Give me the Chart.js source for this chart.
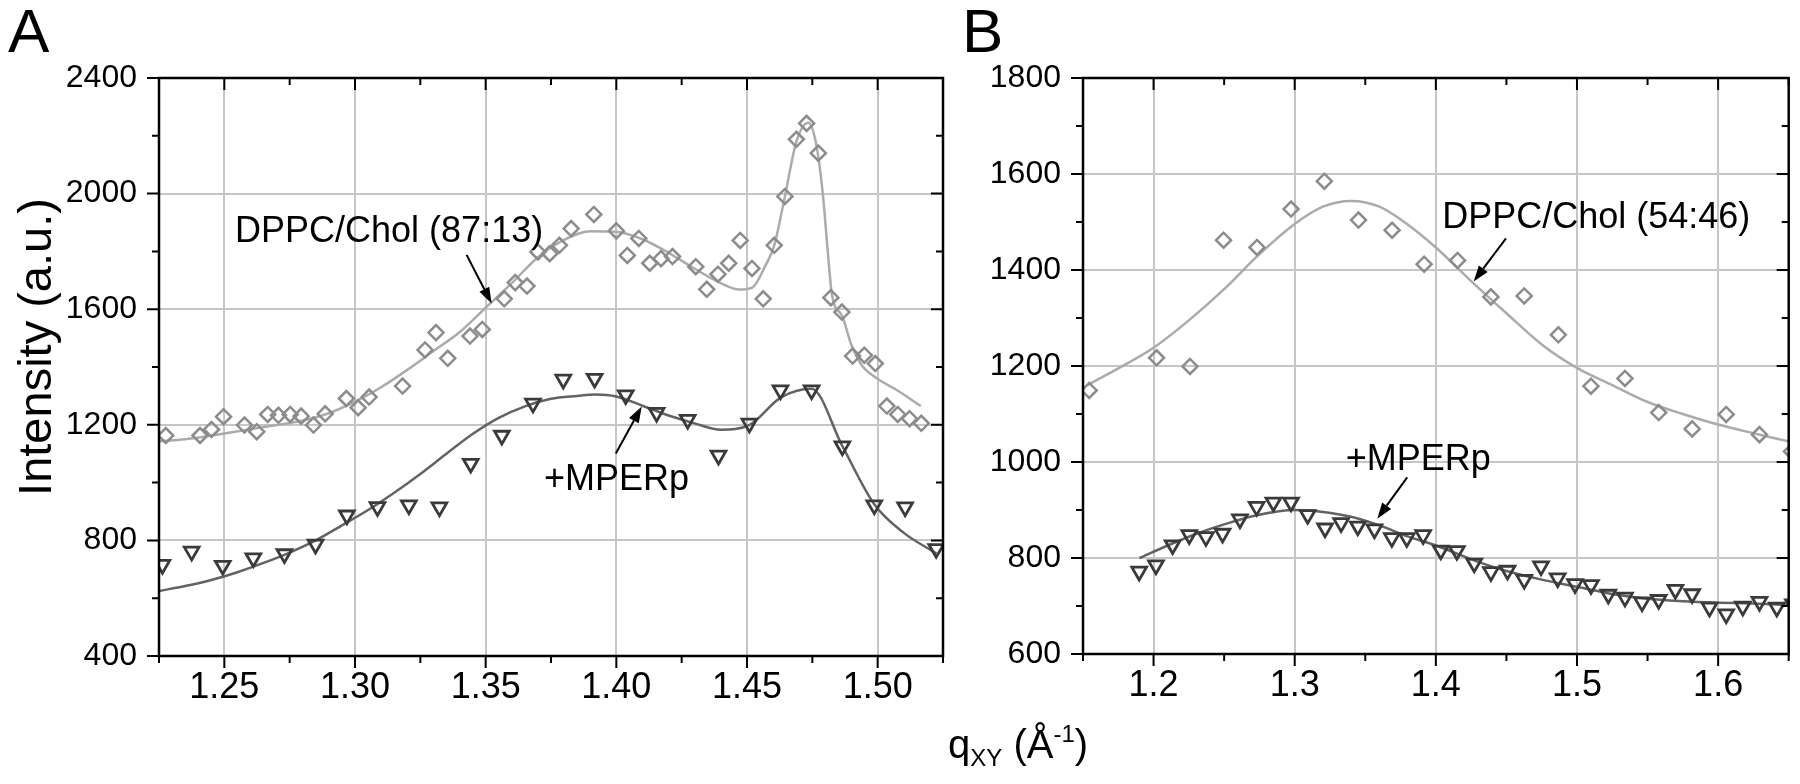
<!DOCTYPE html>
<html>
<head>
<meta charset="utf-8">
<script src="https://cdn.jsdelivr.net/npm/chart.js@4.4.1/dist/chart.umd.min.js"></script>
<style>
  html, body { margin: 0; padding: 0; background: #fff; }
  #wrap { position: relative; width: 1800px; height: 784px; overflow: hidden;
          font-family: "Liberation Sans", Arial, sans-serif; color: #000; }
  canvas { position: absolute; top: 0; }
  #chartA { left: 0; }
  #chartB { left: 960px; }
  .letter { position: absolute; top: 0; font-size: 62px; line-height: 1; }
  #ytitle { position: absolute; left: 34px; top: 347px; font-size: 47px; line-height: 1;
            white-space: nowrap; transform: translate(-50%, -50%) rotate(-90deg); }
  #xtitle { position: absolute; left: 948px; top: 724px; font-size: 40px; line-height: 1; white-space: nowrap; }
  #xtitle .sub { font-size: 24px; position: relative; top: 8px; }
  #xtitle .sup { font-size: 24px; position: relative; top: -16px; }
</style>
</head>
<body>
<div id="wrap">
  <canvas id="chartA" width="960" height="784"></canvas>
  <canvas id="chartB" width="840" height="784"></canvas>
  <div class="letter" style="left:8px">A</div>
  <div class="letter" style="left:962px">B</div>
  <div id="ytitle">Intensity (a.u.)</div>
  <div id="xtitle">q<span class="sub">XY</span> (Å<span class="sup">-1</span>)</div>
</div>
<script>
// ---- panel A : DPPC/Chol (87:13) ----
const qA_chol = [1.2276,1.2407,1.2451,1.2497,1.2577,1.2624,1.2666,1.2707,1.2752,1.2794,1.2841,1.2886,1.2967,1.3012,1.3054,1.3182,1.3268,1.3310,1.3355,1.3440,1.3487,1.3571,1.3613,1.3658,1.3700,1.3745,1.3782,1.3827,1.3914,1.4000,1.4042,1.4086,1.4128,1.4171,1.4215,1.4304,1.4346,1.4389,1.4430,1.4474,1.4519,1.4562,1.4604,1.4645,1.4689,1.4728,1.4773,1.4821,1.4863,1.4904,1.4949,1.4991,1.5035,1.5077,1.5122,1.5167];
const iA_chol = [1163,1163,1184,1228,1199,1176,1236,1233,1236,1230,1199,1238,1291,1259,1296,1334,1459,1519,1430,1507,1530,1636,1692,1680,1798,1792,1821,1879,1928,1871,1786,1845,1759,1775,1782,1747,1669,1721,1759,1838,1741,1636,1821,1990,2188,2243,2140,1640,1590,1438,1441,1412,1265,1236,1221,1205];
const qA_cholFit = [1.225,1.235,1.250,1.265,1.280,1.290,1.300,1.310,1.320,1.330,1.340,1.350,1.360,1.370,1.380,1.390,1.400,1.410,1.420,1.430,1.440,1.447,1.452,1.457,1.4604,1.4645,1.4689,1.4735,1.4765,1.4790,1.4810,1.4825,1.4865,1.4900,1.4940,1.4995,1.5070,1.5165];
const iA_cholFit = [1143,1150,1170,1192,1215,1240,1280,1330,1390,1455,1520,1605,1690,1780,1840,1870,1868,1842,1795,1740,1690,1668,1675,1750,1820,1990,2180,2245,2170,2000,1790,1650,1575,1475,1405,1362,1322,1265];

// ---- panel A : +MPERp ----
const qA_mper = [1.2263,1.2375,1.2494,1.2611,1.2730,1.2849,1.2969,1.3086,1.3206,1.3323,1.3443,1.3562,1.3681,1.3797,1.3917,1.4036,1.4154,1.4273,1.4391,1.4509,1.4628,1.4747,1.4865,1.4987,1.5105,1.5224];
const iA_mper = [716,762,713,739,753,786,887,916,922,915,1066,1163,1274,1357,1360,1303,1242,1218,1094,1205,1320,1320,1126,922,915,771];
const qA_mperFit = [1.225,1.235,1.245,1.255,1.265,1.275,1.285,1.295,1.305,1.315,1.325,1.335,1.345,1.355,1.365,1.375,1.385,1.392,1.400,1.410,1.420,1.430,1.440,1.451,1.463,1.4747,1.4865,1.4987,1.510,1.5225];
const iA_mperFit = [625,642,663,690,722,758,800,852,905,965,1030,1100,1168,1224,1264,1290,1300,1305,1298,1266,1232,1205,1183,1200,1295,1325,1126,925,826,755];

// ---- panel B : DPPC/Chol (54:46) ----
const qB_chol = [1.1544,1.2021,1.2258,1.2496,1.2733,1.2974,1.3210,1.3452,1.3690,1.3917,1.4154,1.4390,1.4626,1.4868,1.5099,1.5340,1.5579,1.5816,1.6057,1.6293,1.6520];
const iB_chol = [1149,1217,1199,1462,1447,1527,1585,1504,1483,1412,1420,1344,1346,1265,1158,1174,1103,1069,1099,1057,1022];
const qB_cholFit = [1.153,1.175,1.200,1.225,1.250,1.275,1.300,1.320,1.340,1.360,1.380,1.400,1.425,1.450,1.475,1.500,1.525,1.550,1.575,1.600,1.625,1.650];
const iB_cholFit = [1160,1195,1238,1295,1360,1433,1496,1532,1544,1532,1495,1447,1377,1310,1245,1196,1160,1125,1100,1078,1060,1043];

// ---- panel B : +MPERp ----
const qB_mper = [1.1898,1.2017,1.2135,1.2253,1.2371,1.2489,1.2612,1.2730,1.2849,1.2974,1.3092,1.3215,1.3329,1.3447,1.3565,1.3688,1.3794,1.3910,1.4035,1.4149,1.4272,1.4390,1.4508,1.4626,1.4745,1.4863,1.4986,1.5099,1.5222,1.5340,1.5461,1.5579,1.5697,1.5816,1.5939,1.6057,1.6175,1.6293,1.6416,1.6530];
const iB_mper = [772,785,827,848,844,851,881,907,916,916,890,862,873,866,860,842,842,848,816,815,789,771,774,755,783,758,746,744,724,718,708,713,734,725,697,683,699,709,697,704];
const qB_mperFit = [1.19,1.21,1.23,1.25,1.27,1.29,1.30,1.32,1.34,1.36,1.38,1.40,1.43,1.45,1.475,1.50,1.525,1.55,1.575,1.60,1.625,1.65];
const iB_mperFit = [800,826,850,870,887,898,900,896,886,868,845,826,792,773,755,740,725,715,710,707,705,702];

// ---- axes ----
const xMajorA = [1.25, 1.30, 1.35, 1.40, 1.45, 1.50];
const xMinorA = [1.225, 1.275, 1.325, 1.375, 1.425, 1.475, 1.525];
const yMajorA = [400, 800, 1200, 1600, 2000, 2400];
const yMinorA = [600, 1000, 1400, 1800, 2200];
const xMajorB = [1.2, 1.3, 1.4, 1.5, 1.6];
const xMinorB = [1.15, 1.25, 1.35, 1.45, 1.55, 1.65];
const yMajorB = [600, 800, 1000, 1200, 1400, 1600, 1800];
const yMinorB = [700, 900, 1100, 1300, 1500, 1700];

// labels with arrows, in data coordinates
const notesA = [
  { text: 'DPPC/Chol (87:13)', at: [1.2541, 1834], from: [1.3427, 1788], to: [1.3523, 1620] },
  { text: '+MPERp', at: [1.3723, 974], from: [1.3998, 1101], to: [1.4097, 1263] }
];
const notesB = [
  { text: 'DPPC/Chol (54:46)', at: [1.4045, 1487], from: [1.4497, 1466], to: [1.4268, 1376] },
  { text: '+MPERp', at: [1.3362, 983], from: [1.3797, 968], to: [1.3585, 882] }
];

Chart.defaults.font.family = '"Liberation Sans", Arial, sans-serif';
Chart.defaults.color = '#000';

function pts(qs, vals) {
  return qs.map((q, i) => ({ x: q, y: vals[i] }));
}

function drawArrow(ctx, x1, y1, x2, y2) {
  const ang = Math.atan2(y2 - y1, x2 - x1);
  const len = 16, half = 5.5;
  const bx = x2 - Math.cos(ang) * len, by = y2 - Math.sin(ang) * len;
  ctx.beginPath();
  ctx.moveTo(x1, y1);
  ctx.lineTo(bx, by);
  ctx.stroke();
  ctx.beginPath();
  ctx.moveTo(x2, y2);
  ctx.lineTo(bx + Math.sin(ang) * half, by - Math.cos(ang) * half);
  ctx.lineTo(bx - Math.sin(ang) * half, by + Math.cos(ang) * half);
  ctx.closePath();
  ctx.fill();
}

// box, mirrored ticks, minor ticks and the arrow labels
const frame = {
  id: 'frame',
  afterDraw(chart, args, o) {
    const ctx = chart.ctx, a = chart.chartArea;
    const sx = chart.scales.x, sy = chart.scales.y;
    ctx.save();
    ctx.strokeStyle = '#000';
    ctx.lineWidth = 2;
    ctx.beginPath();
    const xt = (list, len) => list.forEach(v => {
      const p = sx.getPixelForValue(v);
      ctx.moveTo(p, a.bottom); ctx.lineTo(p, a.bottom + len);
      ctx.moveTo(p, a.top); ctx.lineTo(p, a.top + len);
    });
    const yt = (list, len) => list.forEach(v => {
      const p = sy.getPixelForValue(v);
      ctx.moveTo(a.left - len, p); ctx.lineTo(a.left, p);
      ctx.moveTo(a.right - len, p); ctx.lineTo(a.right, p);
    });
    xt(o.xMajor, 12); xt(o.xMinor, 7);
    yt(o.yMajor, 12); yt(o.yMinor, 7);
    ctx.stroke();
    ctx.lineWidth = 2.5;
    ctx.strokeRect(a.left, a.top, a.right - a.left, a.bottom - a.top);

    ctx.fillStyle = '#000';
    ctx.lineWidth = 2;
    ctx.font = '36px "Liberation Sans", Arial, sans-serif';
    ctx.textBaseline = 'alphabetic';
    o.notes.forEach(n => {
      ctx.fillText(n.text, sx.getPixelForValue(n.at[0]), sy.getPixelForValue(n.at[1]));
      drawArrow(ctx, sx.getPixelForValue(n.from[0]), sy.getPixelForValue(n.from[1]),
                sx.getPixelForValue(n.to[0]), sy.getPixelForValue(n.to[1]));
    });
    ctx.restore();
  }
};

function panel(id, p) {
  return new Chart(document.getElementById(id), {
    type: 'scatter',
    data: {
      datasets: [
        { data: pts(p.qChol, p.iChol), showLine: false, pointStyle: 'rectRot', pointRadius: 7.5,
          pointBorderWidth: 2.5, pointBorderColor: '#8c8c8c', pointBackgroundColor: 'rgba(0,0,0,0)' },
        { data: pts(p.qMper, p.iMper), showLine: false, pointStyle: 'triangle', pointRotation: 180,
          pointRadius: 8.5, pointBorderWidth: 2.8, pointBorderColor: '#3a3a3a', pointBackgroundColor: 'rgba(0,0,0,0)' },
        { data: pts(p.qCholFit, p.iCholFit), showLine: true, pointRadius: 0, borderColor: '#ababab',
          borderWidth: 2.5, cubicInterpolationMode: 'monotone' },
        { data: pts(p.qMperFit, p.iMperFit), showLine: true, pointRadius: 0, borderColor: '#636363',
          borderWidth: 2.5, cubicInterpolationMode: 'monotone' }
      ]
    },
    options: {
      responsive: false,
      animation: false,
      devicePixelRatio: 1,
      events: [],
      layout: { padding: { left: 0, top: 78, right: p.padRight, bottom: 0 } },
      plugins: {
        legend: { display: false },
        tooltip: { enabled: false },
        frame: { xMajor: p.xMajor, xMinor: p.xMinor, yMajor: p.yMajor, yMinor: p.yMinor, notes: p.notes }
      },
      scales: {
        x: {
          type: 'linear', min: p.xMin, max: p.xMax,
          afterBuildTicks: s => { s.ticks = p.xMajor.map(v => ({ value: v })); },
          afterFit: s => { s.height = p.xHeight; },
          grid: { color: '#c6c6c6', lineWidth: 2, drawTicks: false },
          border: { display: false },
          ticks: { font: { size: 36 }, padding: 10, maxRotation: 0, autoSkip: false,
                   callback: v => v.toFixed(p.xDigits) }
        },
        y: {
          min: p.yMin, max: p.yMax,
          afterBuildTicks: s => { s.ticks = p.yMajor.map(v => ({ value: v })); },
          afterFit: s => { s.width = p.yWidth; },
          grid: { color: '#c6c6c6', lineWidth: 2, drawTicks: false },
          border: { display: false },
          ticks: { font: { size: 32 }, padding: 22, autoSkip: false, callback: v => String(v) }
        }
      }
    },
    plugins: [frame]
  });
}

panel('chartA', {
  qChol: qA_chol, iChol: iA_chol, qCholFit: qA_cholFit, iCholFit: iA_cholFit,
  qMper: qA_mper, iMper: iA_mper, qMperFit: qA_mperFit, iMperFit: iA_mperFit,
  xMin: 1.225, xMax: 1.525, yMin: 400, yMax: 2400, xDigits: 2,
  xMajor: xMajorA, xMinor: xMinorA, yMajor: yMajorA, yMinor: yMinorA,
  yWidth: 159, xHeight: 128, padRight: 17, notes: notesA
});

panel('chartB', {
  qChol: qB_chol, iChol: iB_chol, qCholFit: qB_cholFit, iCholFit: iB_cholFit,
  qMper: qB_mper, iMper: iB_mper, qMperFit: qB_mperFit, iMperFit: iB_mperFit,
  xMin: 1.15, xMax: 1.65, yMin: 600, yMax: 1800, xDigits: 1,
  xMajor: xMajorB, xMinor: xMinorB, yMajor: yMajorB, yMinor: yMinorB,
  yWidth: 123, xHeight: 130, padRight: 9, notes: notesB
});
</script>
</body>
</html>
